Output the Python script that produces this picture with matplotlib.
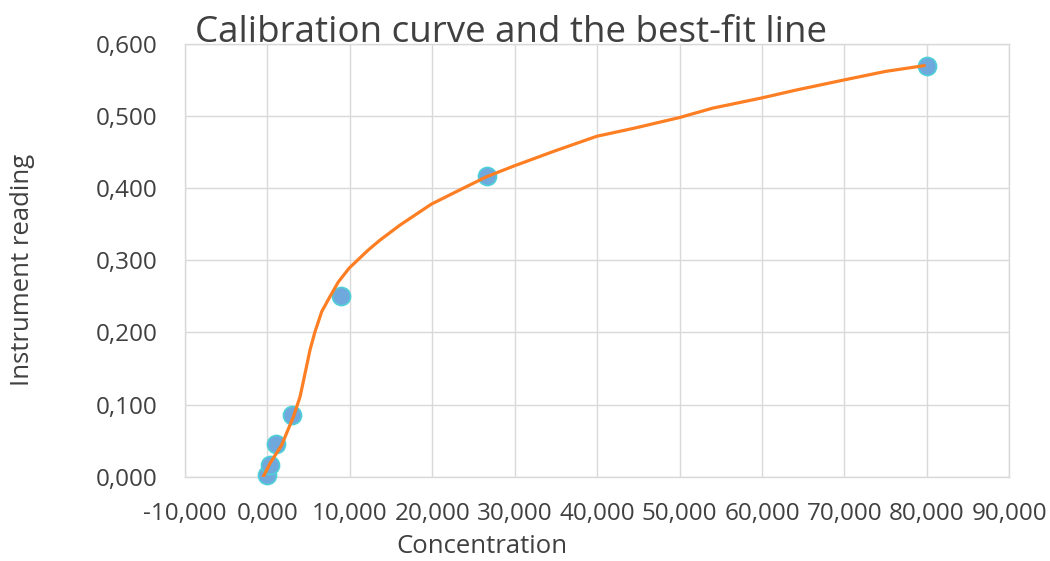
import matplotlib
matplotlib.use("Agg")
import matplotlib.pyplot as plt
from matplotlib.ticker import FuncFormatter, MultipleLocator

# Measured standards (concentration, instrument reading)
conc = [0.0, 0.329, 0.988, 2.963, 8.889, 26.667, 80.0]
reading = [0.003, 0.016, 0.045, 0.086, 0.251, 0.417, 0.570]

# Best-fit curve, sampled along the concentration range
fit_conc = [-0.5, 0.32, 1.73, 3.15, 3.96, 4.56, 5.17, 5.77, 6.59, 7.6, 8.6,
            9.9, 12.2, 13.65, 16.1, 19.9, 23.4, 26.6, 29.95, 34.7, 39.95,
            44.4, 50.0, 54.0, 59.9, 64.1, 69.9, 75.0, 79.7]
fit_reading = [0.0, 0.0186, 0.044, 0.083, 0.111, 0.143, 0.176, 0.201, 0.229,
               0.250, 0.270, 0.289, 0.314, 0.328, 0.349, 0.378, 0.398, 0.416,
               0.431, 0.451, 0.472, 0.483, 0.498, 0.511, 0.525, 0.536, 0.550,
               0.562, 0.570]

title = "Calibration curve and the best-fit line"
xlabel = "Concentration"
ylabel = "Instrument reading"

plt.rcParams["font.family"] = ["Open Sans", "DejaVu Sans"]
text_color = "#404040"
grid_color = "#d9d9d9"

fig = plt.figure(figsize=(10.5, 5.61), dpi=100)
ax = fig.add_axes([0.1762, 0.1503, 0.785, 0.7713])

ax.scatter(conc, reading, s=170, color="#6fa8dc", edgecolors="#4fd0d8",
           linewidths=1.2, zorder=3, clip_on=False)
ax.plot(fit_conc, fit_reading, color="#fd7e23", lw=2.3, zorder=4,
        solid_capstyle="round", solid_joinstyle="round")

ax.set_xlim(-10, 90)
ax.set_ylim(0, 0.6)
ax.xaxis.set_major_locator(MultipleLocator(10))
ax.yaxis.set_major_locator(MultipleLocator(0.1))

comma_fmt = FuncFormatter(lambda v, p: f"{v:.3f}".replace(".", ","))
ax.xaxis.set_major_formatter(comma_fmt)
ax.yaxis.set_major_formatter(comma_fmt)

ax.grid(True, color=grid_color, lw=1.0)
ax.set_axisbelow(True)
for sp in ax.spines.values():
    sp.set_color(grid_color)
    sp.set_linewidth(1.0)

ax.tick_params(length=0, labelsize=17.5, colors=text_color)
ax.tick_params(axis="y", pad=20)
ax.tick_params(axis="x", pad=18.5)

fig.text(0.4867, 0.925, title, ha="center", va="baseline", fontsize=26.5,
         color=text_color)
fig.text(0.459, 0.025, xlabel, ha="center", va="center", fontsize=18.5,
         color=text_color)
fig.text(0.021, 0.519, ylabel, ha="center", va="center", fontsize=18.5,
         rotation=90, color=text_color)

fig.savefig("out.png", dpi=100, facecolor="white")
